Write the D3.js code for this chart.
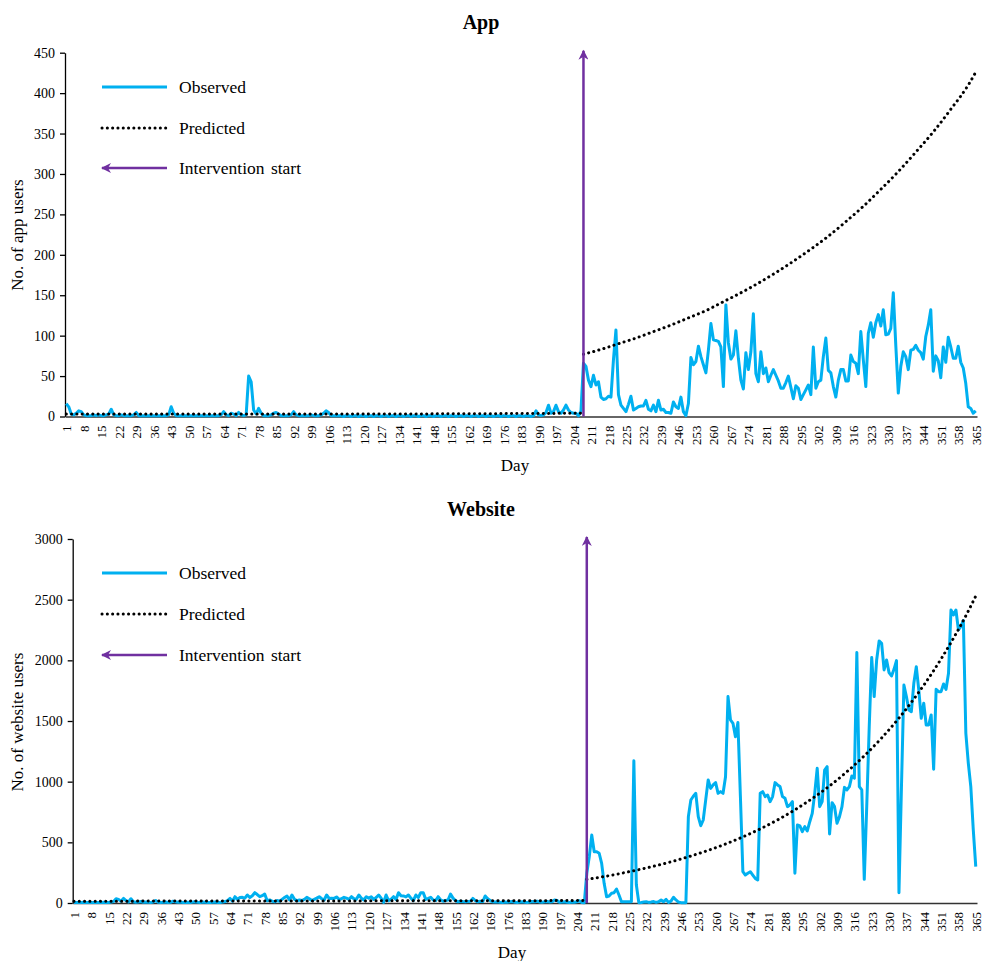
<!DOCTYPE html>
<html>
<head>
<meta charset="utf-8">
<script src="https://cdn.jsdelivr.net/npm/d3@7"></script>
<style>
  body { margin: 0; background: #fff; }
  text { font-family: "Liberation Serif", "Times New Roman", serif; fill: #000; }
</style>
</head>
<body>
<svg id="chart" width="985" height="961"></svg>
<script>
// ---- data ----
var days = d3.range(1, 366);
var dayTicks = days.filter(function (d) { return (d - 1) % 7 === 0; });
var interventionDay = 208;

var appYTicks = [0, 50, 100, 150, 200, 250, 300, 350, 400, 450];
var webYTicks = [0, 500, 1000, 1500, 2000, 2500, 3000];

// app users, days 1-207
var appObservedPre = [
  16, 12, 3, 2, 4, 7, 6, 2, 1, 1,
  1, 2, 1, 2, 1, 1, 2, 3, 9, 2,
  1, 1, 2, 1, 1, 1, 1, 2, 5, 1,
  1, 1, 1, 1, 1, 1, 1, 1, 1, 1,
  1, 2, 12, 4, 1, 1, 1, 1, 1, 1,
  1, 1, 1, 1, 1, 1, 1, 1, 1, 1,
  1, 1, 2, 6, 2, 1, 4, 3, 1, 5,
  2, 1, 2, 50, 43, 8, 3, 10, 4, 1,
  1, 1, 2, 4, 5, 3, 1, 1, 1, 1,
  2, 6, 2, 1, 1, 1, 1, 1, 2, 1,
  1, 1, 2, 4, 7, 5, 1, 1, 1, 1,
  1, 0, 1, 1, 0, 1, 1, 0, 1, 1,
  0, 1, 1, 0, 1, 1, 0, 1, 1, 0,
  1, 1, 0, 1, 1, 0, 1, 1, 0, 1,
  1, 0, 1, 1, 0, 1, 1, 0, 1, 1,
  0, 1, 1, 0, 1, 1, 0, 1, 1, 0,
  1, 1, 0, 1, 1, 0, 1, 1, 0, 1,
  1, 0, 1, 1, 0, 1, 1, 0, 1, 1,
  0, 1, 1, 0, 1, 1, 0, 1, 7, 2,
  1, 2, 5, 14, 4, 6, 14, 6, 4, 8,
  14, 8, 5, 4, 4, 1, 7
];
// app users, days 208-365
var appObservedPost = [
  66, 62, 45, 37, 51, 39, 43, 24, 21, 22,
  25, 24, 70, 107, 27, 14, 10, 6, 15, 25,
  8, 10, 12, 13, 13, 20, 9, 7, 14, 6,
  20, 8, 9, 5, 5, 4, 18, 12, 10, 24,
  6, 1, 16, 73, 64, 68, 87, 74, 64, 54,
  82, 115, 95, 94, 93, 86, 37, 138, 91, 71,
  76, 106, 72, 45, 34, 79, 58, 80, 127, 53,
  43, 80, 53, 60, 43, 51, 58, 51, 44, 35,
  35, 42, 50, 36, 22, 38, 35, 21, 27, 33,
  39, 27, 86, 35, 43, 45, 74, 97, 57, 54,
  37, 24, 45, 58, 58, 44, 44, 76, 68, 66,
  53, 105, 70, 37, 103, 116, 98, 116, 126, 112,
  132, 101, 102, 109, 153, 88, 29, 62, 80, 74,
  58, 82, 83, 88, 82, 79, 71, 99, 113, 132,
  56, 75, 69, 48, 86, 67, 98, 86, 72, 72,
  87, 67, 60, 41, 12, 10, 4, 7
];
// predicted app users [day, value]
var appPredictedPre = [[1, 3], [100, 3], [207, 4]];
var appPredictedPost = [
  [208, 77], [215, 83], [222, 90], [229, 97], [236, 105], [243, 113],
  [250, 122], [257, 131], [264, 142], [271, 153], [278, 165], [285, 178],
  [292, 192], [299, 207], [306, 223], [313, 241], [320, 260], [327, 281],
  [334, 303], [341, 327], [348, 352], [355, 380], [362, 410], [365, 426]
];

// website users, days 1-207
var webObservedPre = [
  5, 5, 5, 5, 6, 5, 5, 5, 5, 5,
  5, 5, 6, 5, 5, 8, 12, 35, 30, 15,
  38, 20, 8, 35, 10, 6, 8, 12, 6, 8,
  6, 5, 8, 20, 6, 5, 6, 8, 5, 6,
  15, 10, 6, 8, 5, 5, 6, 5, 8, 10,
  6, 5, 8, 6, 5, 5, 6, 8, 5, 5,
  8, 12, 20, 38, 15, 52, 30, 45, 47, 40,
  66, 45, 60, 85, 70, 52, 60, 74, 19, 25,
  15, 10, 20, 15, 30, 45, 58, 25, 66, 30,
  19, 25, 20, 30, 47, 35, 20, 30, 40, 52,
  35, 25, 66, 38, 40, 38, 50, 30, 35, 47,
  40, 30, 52, 35, 30, 66, 40, 25, 52, 40,
  52, 30, 45, 66, 40, 5, 66, 20, 30, 52,
  30, 85, 60, 58, 50, 66, 40, 20, 66, 45,
  85, 85, 30, 38, 47, 25, 20, 52, 25, 15,
  20, 25, 74, 40, 20, 10, 15, 12, 10, 12,
  15, 38, 20, 10, 15, 12, 58, 35, 20, 10,
  8, 10, 6, 5, 8, 6, 10, 12, 6, 5,
  8, 10, 6, 5, 8, 12, 10, 15, 8, 6,
  10, 12, 8, 10, 25, 20, 6, 8, 10, 6,
  5, 8, 6, 10, 19, 5, 3
];
// website users, days 208-365
var webObservedPost = [
  245, 380, 560, 423, 423, 410, 327, 162, 52, 58,
  80, 85, 115, 66, 11, 10, 11, 11, 10, 1173,
  150, 3, 5, 8, 10, 5, 8, 12, 5, 10,
  25, 10, 30, 5, 15, 47, 25, 8, 3, 3,
  2, 712, 849, 880, 904, 712, 637, 684, 850, 1014,
  945, 973, 992, 904, 918, 904, 1041, 1701, 1509, 1481,
  1371, 1487, 880, 258, 231, 245, 258, 230, 203, 190,
  904, 918, 877, 890, 835, 877, 992, 973, 960, 877,
  863, 794, 808, 835, 245, 643, 635, 588, 629, 594,
  670, 739, 904, 1110, 794, 835, 1096, 1124, 569, 827,
  794, 657, 712, 794, 953, 932, 959, 1047, 1028, 2064,
  959, 932, 195, 800, 1450, 2023, 1701, 2003, 2160, 2141,
  1921, 2003, 1899, 1871, 1926, 1998, 85, 950, 1797, 1701,
  1591, 1577, 1811, 1948, 1756, 1522, 1646, 1467, 1467, 1550,
  1102, 1761, 1742, 1742, 1805, 1761, 1893, 2415, 2374, 2415,
  2251, 2278, 2328, 1399, 1151, 959, 602, 300
];
// predicted website users [day, value]
var webPredictedPre = [[1, 15], [100, 17], [207, 20]];
var webPredictedPost = [
  [208, 195], [215, 218], [222, 245], [229, 275], [236, 308], [243, 345],
  [250, 387], [257, 434], [264, 486], [271, 545], [278, 611], [285, 685],
  [292, 768], [299, 861], [306, 965], [313, 1082], [320, 1213], [327, 1360],
  [334, 1524], [341, 1709], [348, 1915], [355, 2147], [362, 2407], [365, 2530]
];

var legendLabels = ['Observed', 'Predicted', 'Intervention start'];

// ---- drawing ----
var BLUE = '#00B0F0', PURPLE = '#7030A0';
var svg = d3.select('#chart');

svg.append('defs').append('marker')
    .attr('id', 'arrowhead')
    .attr('viewBox', '0 0 10 10')
    .attr('refX', 9).attr('refY', 5)
    .attr('markerWidth', 11).attr('markerHeight', 10)
    .attr('markerUnits', 'userSpaceOnUse')
    .attr('orient', 'auto')
  .append('path')
    .attr('d', 'M0,0 L10,5 L0,10 L3,5 Z')
    .attr('fill', PURPLE);

function drawPanel(p) {
  var x = d3.scalePoint().domain(days).range([p.left, 977]).padding(0.5);
  var y = d3.scaleLinear().domain([0, p.yMax]).range([p.bottom, p.top]);
  var g = svg.append('g');

  // title
  g.append('text')
    .attr('x', p.titleX).attr('y', p.titleY)
    .attr('text-anchor', 'middle')
    .style('font-size', '20px').style('font-weight', 'bold')
    .text(p.title);

  // y axis
  var ya = g.append('g')
    .attr('transform', 'translate(' + p.left + ',0)')
    .call(d3.axisLeft(y).tickValues(p.yTicks).tickFormat(d3.format('d'))
      .tickSizeInner(5).tickSizeOuter(0).tickPadding(5));
  ya.selectAll('text').style('font-size', '14px');
  ya.selectAll('line, path').attr('stroke', '#000').attr('stroke-width', 1.3);

  // x axis
  var xa = g.append('g')
    .attr('transform', 'translate(0,' + p.bottom + ')')
    .call(d3.axisBottom(x).tickValues(dayTicks).tickSize(0));
  xa.select('.domain').attr('stroke', '#333').attr('stroke-width', 1.5);
  xa.selectAll('text')
    .attr('transform', 'rotate(-90)')
    .attr('x', -9).attr('y', 0).attr('dy', '0.35em')
    .attr('text-anchor', 'end')
    .style('font-size', '13px');

  // axis titles
  g.append('text')
    .attr('x', p.dayX).attr('y', p.dayY)
    .attr('text-anchor', 'middle')
    .style('font-size', '17px')
    .text('Day');
  g.append('text')
    .attr('transform', 'translate(' + 23 + ',' + p.yTitleY + ') rotate(-90)')
    .attr('text-anchor', 'middle')
    .style('font-size', '17px')
    .text(p.yTitle);

  // observed line
  var observed = p.pre.concat(p.post).map(function (v, i) { return [days[i], v]; });
  var line = d3.line()
    .x(function (d) { return x(d[0]); })
    .y(function (d) { return y(d[1]); });
  g.append('path')
    .datum(observed)
    .attr('d', line)
    .attr('fill', 'none')
    .attr('stroke', BLUE)
    .attr('stroke-width', 3)
    .attr('stroke-linejoin', 'round');

  // predicted (dotted)
  var smooth = d3.line()
    .x(function (d) { return x(d[0]); })
    .y(function (d) { return y(d[1]); })
    .curve(d3.curveMonotoneX);
  [p.predPre, p.predPost].forEach(function (seg) {
    g.append('path')
      .datum(seg)
      .attr('d', smooth)
      .attr('fill', 'none')
      .attr('stroke', '#000')
      .attr('stroke-width', 3)
      .attr('stroke-linecap', 'round')
      .attr('stroke-dasharray', '0.1,5.2');
  });

  // intervention arrow
  g.append('line')
    .attr('x1', x(interventionDay)).attr('x2', x(interventionDay))
    .attr('y1', y(0)).attr('y2', y(p.yMax) - 2)
    .attr('stroke', PURPLE)
    .attr('stroke-width', 2.5)
    .attr('marker-end', 'url(#arrowhead)');

  // legend
  var lg = g.append('g');
  legendLabels.forEach(function (lab, i) {
    var ly = p.legendY[i];
    var l = lg.append('line')
      .attr('y1', ly).attr('y2', ly);
    if (i === 0) {
      l.attr('x1', 102).attr('x2', 167).attr('stroke', BLUE).attr('stroke-width', 3);
    } else if (i === 1) {
      l.attr('x1', 102).attr('x2', 167).attr('stroke', '#000').attr('stroke-width', 3)
        .attr('stroke-linecap', 'round').attr('stroke-dasharray', '0.1,5.2');
    } else {
      l.attr('x1', 167).attr('x2', 102).attr('stroke', PURPLE).attr('stroke-width', 2.5)
        .attr('marker-end', 'url(#arrowhead)');
    }
    lg.append('text')
      .attr('x', 179).attr('y', ly).attr('dy', '0.35em')
      .style('font-size', '17.5px')
      .style('word-spacing', '2px')
      .text(lab);
  });
}

drawPanel({
  title: 'App', titleX: 481, titleY: 29,
  left: 65, top: 52.7, bottom: 416.5, yMax: 450, yTicks: appYTicks,
  yTitle: 'No. of app users', yTitleY: 235,
  dayX: 515, dayY: 471,
  pre: appObservedPre, post: appObservedPost,
  predPre: appPredictedPre, predPost: appPredictedPost,
  legendY: [87, 128, 168]
});

drawPanel({
  title: 'Website', titleX: 481, titleY: 516,
  left: 72.7, top: 539, bottom: 903, yMax: 3000, yTicks: webYTicks,
  yTitle: 'No. of website users', yTitleY: 722,
  dayX: 512, dayY: 958,
  pre: webObservedPre, post: webObservedPost,
  predPre: webPredictedPre, predPost: webPredictedPost,
  legendY: [573, 614, 655]
});
</script>
</body>
</html>
